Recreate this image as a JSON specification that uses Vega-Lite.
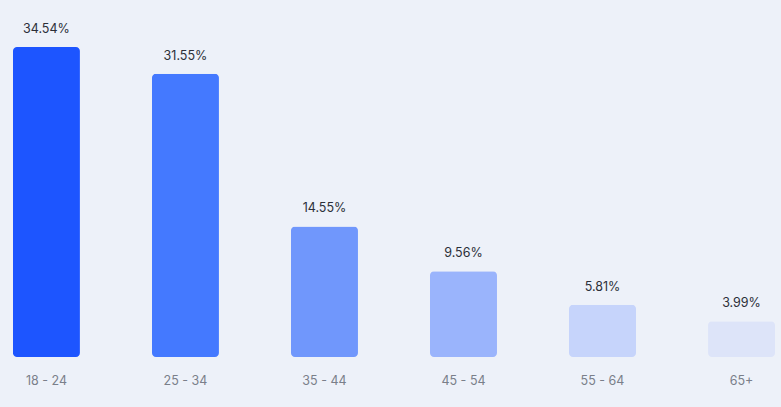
{
  "$schema": "https://vega.github.io/schema/vega-lite/v6.json",
  "description": "Share by age group, vertical bars with value labels",
  "autosize": "none",
  "padding": {"left": 0, "top": 0, "right": 0, "bottom": 50},
  "width": 781,
  "height": 357,
  "background": "#edf1f9",
  "config": {
    "view": {"stroke": "transparent"},
    "font": "Inter",
    "axis": {
      "grid": false,
      "domain": false,
      "ticks": false
    }
  },
  "data": {
    "values": [
      {"age": "18 - 24", "share": 34.54, "label": "34.54%", "color": "#1d55ff"},
      {"age": "25 - 34", "share": 31.55, "label": "31.55%", "color": "#4479ff"},
      {"age": "35 - 44", "share": 14.55, "label": "14.55%", "color": "#7097fc"},
      {"age": "45 - 54", "share": 9.56, "label": "9.56%", "color": "#9ab4fc"},
      {"age": "55 - 64", "share": 5.81, "label": "5.81%", "color": "#c6d4fb"},
      {"age": "65+", "share": 3.99, "label": "3.99%", "color": "#dde4f9"}
    ]
  },
  "encoding": {
    "x": {
      "field": "age",
      "type": "nominal",
      "sort": null,
      "title": null,
      "scale": {"paddingInner": 0.518, "paddingOuter": 0.068, "align": 0.684},
      "axis": {
        "labelAngle": 0,
        "labelColor": "#7a7f8a",
        "labelFontSize": 12.5,
        "labelPadding": 17
      }
    },
    "y": {
      "field": "share",
      "type": "quantitative",
      "title": null,
      "scale": {"domain": [0, 39.78], "nice": false},
      "axis": null
    }
  },
  "layer": [
    {
      "mark": {"type": "bar", "cornerRadius": 4},
      "encoding": {
        "color": {"field": "color", "type": "nominal", "scale": null}
      }
    },
    {
      "mark": {
        "type": "text",
        "baseline": "alphabetic",
        "dy": -14,
        "fontSize": 12.5,
        "color": "#2b2f38"
      },
      "encoding": {
        "text": {"field": "label", "type": "nominal"}
      }
    }
  ]
}
